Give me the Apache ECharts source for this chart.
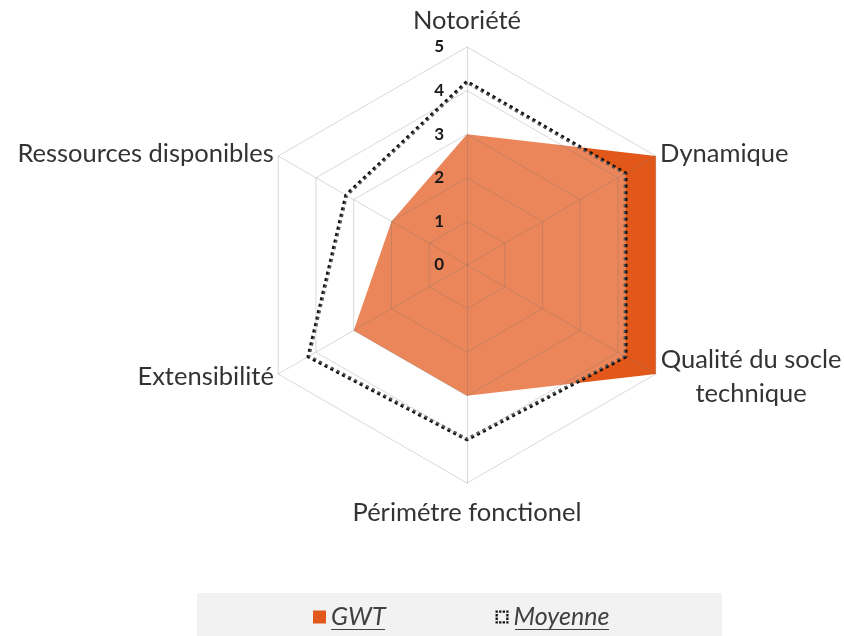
<!DOCTYPE html>
<html>
<head>
<meta charset="utf-8">
<script src="https://cdn.jsdelivr.net/npm/echarts@6/dist/echarts.min.js"></script>
<style>html,body{margin:0;padding:0;background:#fff}#c{width:844px;height:636px}</style>
</head>
<body>
<div id="c"></div>
<script>
// Indicators listed counter-clockwise from the top (ECharts radar order)
var indicators = ['Notoriété', 'Ressources disponibles', 'Extensibilité', 'Périmétre fonctionel', 'Qualité du socle technique', 'Dynamique'];
var maxValue = 5;
var gwtValues = [3, 2, 3, 3, 5, 5];
var moyenneValues = [4.2, 3.2, 4.2, 4.0, 4.2, 4.2];
var seriesNames = ['GWT', 'Moyenne'];

var FONT = 'Lato';
var NAME_SIZE = 25.5;
var dots = [[0,0],[4,0],[8,0],[12,0],[12,4],[12,8],[12,12],[8,12],[4,12],[0,12],[0,8],[0,4]];
var dottedIcon = 'path://' + dots.map(function (d) { return 'M' + d[0] + ',' + d[1] + 'h2.6v2.6h-2.6z'; }).join(' ');

var chart = echarts.init(document.getElementById('c'), null, {renderer: 'canvas'});
chart.setOption({
  backgroundColor: '#ffffff',
  animation: false,
  graphic: [
    {type: 'rect', z: -1, shape: {x: 197, y: 593, width: 525, height: 43}, style: {fill: '#f2f2f2'}},
    {type: 'line', z: 10, shape: {x1: 331, y1: 629.5, x2: 385, y2: 629.5}, style: {stroke: '#404040', lineWidth: 1.2}},
    {type: 'line', z: 10, shape: {x1: 515, y1: 629.5, x2: 609, y2: 629.5}, style: {stroke: '#404040', lineWidth: 1.2}}
  ],
  legend: {
    left: 313, top: 603,
    padding: 0,
    itemGap: 110,
    itemWidth: 13, itemHeight: 13,
    textStyle: {fontFamily: FONT, fontStyle: 'italic', fontSize: 25, lineHeight: 28, color: '#404040'},
    data: [
      {name: seriesNames[0], icon: 'rect', itemStyle: {color: '#E2581B', opacity: 1}},
      {name: seriesNames[1], icon: dottedIcon, itemStyle: {color: '#111111', borderWidth: 0}}
    ]
  },
  radar: {
    z: 5,
    center: [467, 265],
    radius: 218,
    shape: 'polygon',
    splitNumber: 5,
    axisNameGap: 5,
    axisName: {
      color: '#333333', fontFamily: FONT, fontSize: NAME_SIZE,
      formatter: function (v) {
        if (v === 'Qualité du socle technique') return '{c|Qualité du socle}\n{c|technique}';
        if (v === 'Notoriété') return '{t|' + v + '}';
        if (v === 'Périmétre fonctionel') return '{b|' + v + '}';
        return v;
      },
      rich: {
        c: {align: 'center', width: 182, fontFamily: FONT, fontSize: NAME_SIZE, color: '#333333', lineHeight: 34},
        t: {fontFamily: FONT, fontSize: NAME_SIZE, color: '#333333', padding: [0, 0, 8, 0]},
        b: {fontFamily: FONT, fontSize: NAME_SIZE, color: '#333333', padding: [12, 0, 0, 0]}
      }
    },
    splitLine: {lineStyle: {color: 'rgba(110,110,110,0.26)', width: 1}},
    splitArea: {show: false},
    axisLine: {lineStyle: {color: 'rgba(110,110,110,0.26)', width: 1}},
    axisLabel: {show: false},
    indicator: indicators.map(function (n, i) {
      var o = {name: n, min: 0, max: maxValue};
      if (i === 0) {
        o.axisLabel = {show: true, color: '#1a1a1a', fontWeight: 'bold', fontSize: 17, fontFamily: FONT, margin: 23};
      }
      return o;
    })
  },
  series: [{
    type: 'radar',
    z: 2,
    symbol: 'none',
    data: [
      {
        name: seriesNames[0],
        value: gwtValues,
        lineStyle: {width: 0, color: '#E2581B'},
        itemStyle: {color: '#E2581B'},
        areaStyle: {color: '#E2581B', opacity: 1}
      },
      {
        name: seriesNames[1],
        value: moyenneValues,
        lineStyle: {width: 3.8, color: '#111111', type: [3.2, 3.4]},
        itemStyle: {color: '#111111'},
        areaStyle: {color: '#ffffff', opacity: 0.28}
      }
    ]
  }]
});
</script>
</body>
</html>
